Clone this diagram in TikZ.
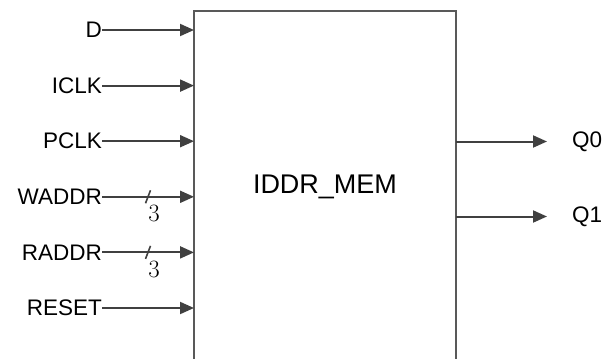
\documentclass[tikz,border=0pt]{standalone}
\usepackage[no-math]{fontspec}
\setmainfont{Liberation Sans}
\usetikzlibrary{arrows.meta,positioning,calc}

\begin{document}
\begin{tikzpicture}[x=1pt, y=-1pt, >={Triangle[length=14pt,width=12pt]}, line join=miter]
\tikzset{
  wire/.style={draw=black!75, line width=2pt},
  pinlbl/.style={font=\fontsize{22.5}{27}\selectfont, inner sep=0pt},
  buswidth/.style={font=\fontsize{26}{30}\selectfont, inner sep=0pt},
}
\useasboundingbox (0,0) rectangle (603,359);
\clip (0,0) rectangle (603,359);

% the block itself, cut off at the bottom
\node[draw=black!65, line width=2.2pt, outer sep=0pt, minimum width=262pt, minimum height=352pt,
      anchor=north west, font=\fontsize{27}{32}\selectfont] (mem) at (194,11) {IDDR\_MEM};

% inputs
\node[pinlbl, anchor=east] (d) at (102,30) {D};
\node[pinlbl, anchor=east] (iclk) at (102,85.6) {ICLK};
\node[pinlbl, anchor=east] (pclk) at (102,141.2) {PCLK};
\node[pinlbl, anchor=east] (waddr) at (102,196.8) {WADDR};
\node[pinlbl, anchor=east] (raddr) at (102,252.4) {RADDR};
\node[pinlbl, anchor=east] (reset) at (102,308) {RESET};

\draw[wire,->] (d.east) -- (d.east -| mem.west);
\draw[wire,->] (iclk.east) -- (iclk.east -| mem.west);
\draw[wire,->] (pclk.east) -- (pclk.east -| mem.west);
\draw[wire,->] (waddr.east) -- coordinate (wbus) (waddr.east -| mem.west);
\draw[wire,->] (raddr.east) -- coordinate (rbus) (raddr.east -| mem.west);
\draw[wire,->] (reset.east) -- (reset.east -| mem.west);

% bus widths
\draw[wire, line width=1.6pt] ([shift={(-2.5,6.5)}]wbus) -- ([shift={(2.5,-6.5)}]wbus);
\node[buswidth] (wbits) at ([shift={(6,17)}]wbus) {$3$};
\draw[wire, line width=1.6pt] ([shift={(-2.5,6.5)}]rbus) -- ([shift={(2.5,-6.5)}]rbus);
\node[buswidth] (rbits) at ([shift={(6,17)}]rbus) {$3$};

% outputs
\node[pinlbl, anchor=west] (q0) at (572,141.5) {Q0};
\node[pinlbl, anchor=west] (q1) at (572,216.5) {Q1};

\draw[wire,->,shorten >=25pt] (mem.east |- q0.west) -- (q0.west);
\draw[wire,->,shorten >=25pt] (mem.east |- q1.west) -- (q1.west);

\end{tikzpicture}
\end{document}
